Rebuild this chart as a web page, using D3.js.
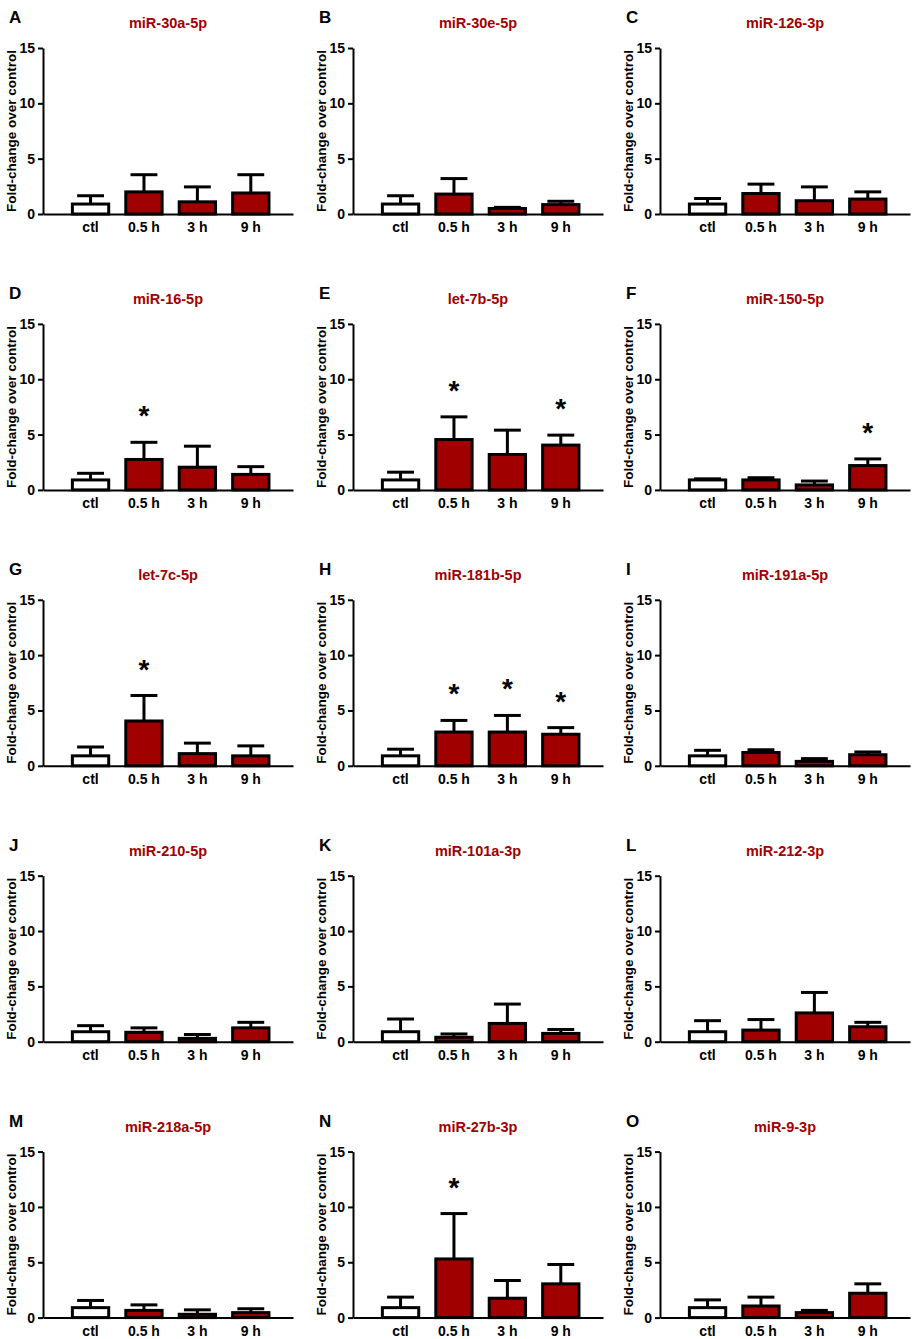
<!DOCTYPE html>
<html>
<head>
<meta charset="utf-8">
<script src="https://cdn.jsdelivr.net/npm/d3@7"></script>
<style>
  body { margin: 0; background: #fff; }
  text { font-family: "Liberation Sans", Arial, sans-serif; font-weight: bold; }
</style>
</head>
<body>
<div id="chart"></div>
<script>
// time points
var categories = ["ctl", "0.5 h", "3 h", "9 h"];
var panelLetters = ["A","B","C","D","E","F","G","H","I","J","K","L","M","N","O"];
var mirnas = ["miR-30a-5p","miR-30e-5p","miR-126-3p","miR-16-5p","let-7b-5p","miR-150-5p",
              "let-7c-5p","miR-181b-5p","miR-191a-5p","miR-210-5p","miR-101a-3p","miR-212-3p",
              "miR-218a-5p","miR-27b-3p","miR-9-3p"];
// mean fold-change per panel
var means = [
  [0.9, 2.0, 1.1, 1.9],
  [0.9, 1.8, 0.5, 0.85],
  [0.9, 1.85, 1.2, 1.35],
  [0.9, 2.75, 2.05, 1.4],
  [0.9, 4.55, 3.2, 4.05],
  [0.9, 0.9, 0.45, 2.2],
  [0.9, 4.05, 1.1, 0.9],
  [0.9, 3.05, 3.05, 2.85],
  [0.9, 1.2, 0.4, 1.0],
  [0.9, 0.85, 0.3, 1.25],
  [0.9, 0.4, 1.65, 0.75],
  [0.9, 1.05, 2.6, 1.35],
  [0.9, 0.65, 0.3, 0.45],
  [0.9, 5.3, 1.75, 3.05],
  [0.9, 1.05, 0.45, 2.2]
];
// top of the error bar (mean + error)
var upper = [
  [1.65, 3.55, 2.45, 3.55],
  [1.65, 3.2, 0.6, 1.15],
  [1.4, 2.7, 2.45, 2.0],
  [1.5, 4.3, 3.95, 2.1],
  [1.6, 6.6, 5.4, 4.95],
  [1.0, 1.1, 0.8, 2.8],
  [1.7, 6.35, 2.05, 1.8],
  [1.5, 4.1, 4.55, 3.45],
  [1.4, 1.45, 0.65, 1.25],
  [1.45, 1.25, 0.65, 1.75],
  [2.05, 0.7, 3.4, 1.1],
  [1.9, 2.0, 4.45, 1.75],
  [1.55, 1.15, 0.7, 0.8],
  [1.85, 9.4, 3.35, 4.8],
  [1.6, 1.85, 0.65, 3.05]
];
// 1 = asterisk above bar
var signif = [
  [0,0,0,0],[0,0,0,0],[0,0,0,0],
  [0,1,0,0],[0,1,0,1],[0,0,0,1],
  [0,1,0,0],[0,1,1,1],[0,0,0,0],
  [0,0,0,0],[0,0,0,0],[0,0,0,0],
  [0,0,0,0],[0,1,0,0],[0,0,0,0]
];
var yTicks = [0, 5, 10, 15];

var W = 914, H = 1339;
var colX = [43, 353, 660],
    rowY0 = 214, rowStep = 275.9,
    plotW = 250, plotH = 166;
var red = "#a10000";

var svg = d3.select("#chart").append("svg")
    .attr("width", W)
    .attr("height", H);

var x = d3.scaleBand()
    .domain(categories)
    .range([0, plotW])
    .paddingInner(0.32)
    .paddingOuter(0.5)
    .align(0.55);

var y = d3.scaleLinear()
    .domain([0, 15])
    .range([plotH, 0]);

mirnas.forEach(function(name, i) {
    var col = i % 3, row = Math.floor(i / 3);
    var g = svg.append("g")
        .attr("transform", "translate(" + colX[col] + "," + (rowY0 + row * rowStep - plotH) + ")");

    // panel letter and title
    g.append("text")
        .attr("x", -34).attr("y", -25)
        .style("font-size", "17px")
        .text(panelLetters[i]);
    g.append("text")
        .attr("x", plotW / 2).attr("y", -20)
        .attr("text-anchor", "middle")
        .style("font-size", "14.5px")
        .style("fill", red)
        .text(name);

    var rows = categories.map(function(c, j) {
        return { cat: c, mean: means[i][j], up: upper[i][j], sig: signif[i][j], idx: j };
    });

    // error bars (upper only)
    var eb = g.selectAll(".err").data(rows).enter().append("g").attr("class", "err");
    eb.append("line")
        .attr("x1", function(d) { return x(d.cat) + x.bandwidth() / 2; })
        .attr("x2", function(d) { return x(d.cat) + x.bandwidth() / 2; })
        .attr("y1", function(d) { return y(d.mean); })
        .attr("y2", function(d) { return y(d.up); })
        .attr("stroke", "#000").attr("stroke-width", 3);
    eb.append("line")
        .attr("x1", function(d) { return x(d.cat) + x.bandwidth() * 0.13; })
        .attr("x2", function(d) { return x(d.cat) + x.bandwidth() * 0.87; })
        .attr("y1", function(d) { return y(d.up); })
        .attr("y2", function(d) { return y(d.up); })
        .attr("stroke", "#000").attr("stroke-width", 3);

    // bars
    g.selectAll(".bar").data(rows).enter().append("rect")
        .attr("class", "bar")
        .attr("x", function(d) { return x(d.cat); })
        .attr("width", x.bandwidth())
        .attr("y", function(d) { return y(d.mean); })
        .attr("height", function(d) { return y(0) - y(d.mean); })
        .attr("fill", function(d) { return d.idx === 0 ? "#fff" : red; })
        .attr("stroke", "#000")
        .attr("stroke-width", 3);

    // asterisks
    g.selectAll(".star").data(rows.filter(function(d) { return d.sig; })).enter().append("text")
        .attr("class", "star")
        .attr("x", function(d) { return x(d.cat) + x.bandwidth() / 2; })
        .attr("y", function(d) { return y(d.up) - 17; })
        .attr("text-anchor", "middle")
        .style("font-size", "28px")
        .text("*");

    // axes
    var ya = g.append("g")
        .call(d3.axisLeft(y).tickValues(yTicks).tickSize(5).tickSizeOuter(0).tickPadding(3));
    var xa = g.append("g")
        .attr("transform", "translate(0," + plotH + ")")
        .call(d3.axisBottom(x).tickSize(0).tickSizeOuter(0).tickPadding(8));
    [ya, xa].forEach(function(a) {
        a.select(".domain").attr("stroke", "#000").attr("stroke-width", 2);
        a.selectAll(".tick line").attr("stroke", "#000").attr("stroke-width", 2);
        a.selectAll(".tick text")
            .style("font-family", '"Liberation Sans", Arial, sans-serif')
            .style("font-weight", "bold")
            .style("font-size", "14px")
            .attr("fill", "#000");
    });

    g.append("text")
        .attr("transform", "translate(-27," + plotH / 2 + ") rotate(-90)")
        .attr("text-anchor", "middle")
        .style("font-size", "13.5px")
        .text("Fold-change over control");
});
</script>
</body>
</html>
